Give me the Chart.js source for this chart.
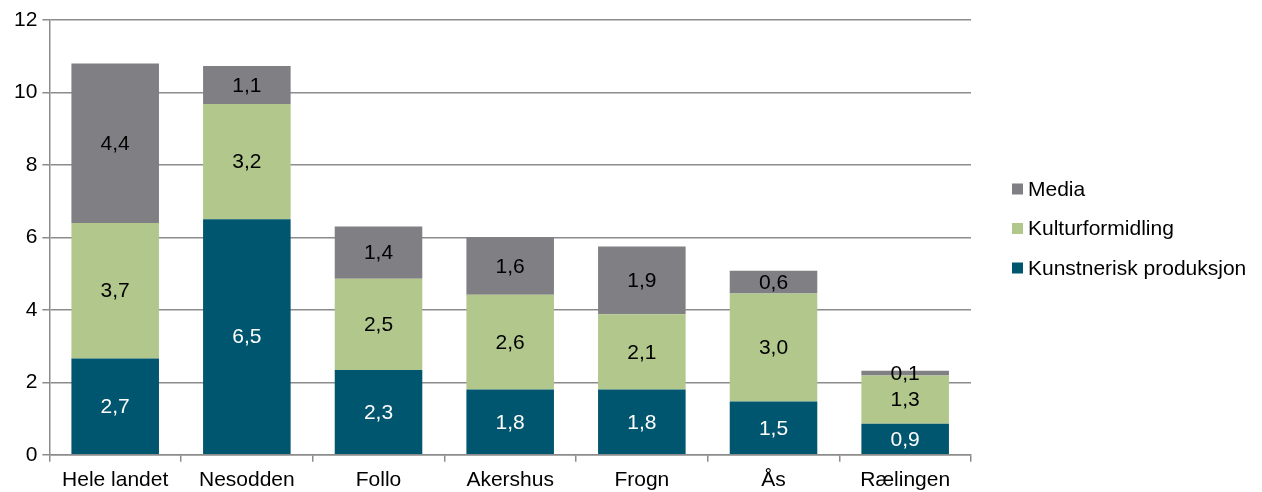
<!DOCTYPE html>
<html>
<head>
<meta charset="utf-8">
<script src="https://cdn.jsdelivr.net/npm/chart.js@4/dist/chart.umd.min.js"></script>
<style>
html,body{margin:0;padding:0;background:#fff;}
#wrap{width:1262px;height:492px;}
</style>
</head>
<body>
<div id="wrap"><canvas id="c" width="1262" height="492"></canvas></div>
<script>
const categories = ['Hele landet','Nesodden','Follo','Akershus','Frogn','Ås','Rælingen'];
const kunstnerisk = [2.66, 6.50, 2.34, 1.80, 1.80, 1.47, 0.86];
const kulturformidling = [3.74, 3.18, 2.52, 2.62, 2.08, 2.98, 1.33];
const media = [4.40, 1.05, 1.44, 1.59, 1.87, 0.63, 0.13];
const yTicks = [0, 2, 4, 6, 8, 10, 12];

const FONT = '"Liberation Sans", Arial, sans-serif';
const GRID = '#8c8c8c';

const seriesNames = ['Kunstnerisk produksjon','Kulturformidling','Media'];
const seriesColors = ['#00566e','#b2c78c','#807f84'];
const labelColors = ['#ffffff','#000000','#000000'];

const valueLabels = {
  id: 'valueLabels',
  afterDatasetsDraw(chart) {
    const ctx = chart.ctx;
    ctx.save();
    ctx.font = '21px ' + FONT;
    ctx.textAlign = 'center';
    ctx.textBaseline = 'middle';
    chart.data.datasets.forEach((ds, di) => {
      const meta = chart.getDatasetMeta(di);
      meta.data.forEach((bar, i) => {
        const v = ds.data[i];
        const txt = (Math.round(v * 10) / 10).toFixed(1).replace('.', ',');
        ctx.fillStyle = labelColors[di];
        const y = (bar.y + bar.base) / 2 + 1;
        ctx.fillText(txt, bar.x, y);
      });
    });
    ctx.restore();
  }
};

const customLegend = {
  id: 'customLegend',
  afterDraw(chart) {
    const ctx = chart.ctx;
    ctx.save();
    ctx.font = '21px ' + FONT;
    ctx.textAlign = 'left';
    ctx.textBaseline = 'middle';
    const order = [2, 1, 0];
    const x0 = 1012;
    const yStart = 189;
    const step = 39.5;
    order.forEach((si, k) => {
      const y = yStart + k * step;
      ctx.fillStyle = seriesColors[si];
      ctx.fillRect(x0, y - 5.5, 11, 11);
      ctx.fillStyle = '#000000';
      ctx.fillText(seriesNames[si], x0 + 16, y + 1);
    });
    ctx.restore();
  }
};

new Chart(document.getElementById('c'), {
  type: 'bar',
  data: {
    labels: categories,
    datasets: [
      { label: seriesNames[0], data: kunstnerisk, backgroundColor: seriesColors[0], barPercentage: 0.665, categoryPercentage: 1.0 },
      { label: seriesNames[1], data: kulturformidling, backgroundColor: seriesColors[1], barPercentage: 0.665, categoryPercentage: 1.0 },
      { label: seriesNames[2], data: media, backgroundColor: seriesColors[2], barPercentage: 0.665, categoryPercentage: 1.0 }
    ]
  },
  options: {
    responsive: false,
    animation: false,
    maintainAspectRatio: false,
    layout: { padding: { left: 9, right: 291, top: 20, bottom: -7 } },
    plugins: { legend: { display: false }, tooltip: { enabled: false } },
    scales: {
      x: {
        stacked: true,
        grid: { display: true, drawOnChartArea: false, drawTicks: true, tickLength: 7, offset: true, color: GRID, lineWidth: 1.5 },
        border: { display: true, color: GRID, width: 1.5 },
        ticks: { color: '#000', font: { family: FONT, size: 21 }, padding: 6, maxRotation: 0 }
      },
      y: {
        stacked: true,
        min: 0, max: 12,
        afterBuildTicks(axis) { axis.ticks = yTicks.map(v => ({ value: v })); },
        grid: { display: true, drawOnChartArea: true, drawTicks: true, tickLength: 7, color: GRID, lineWidth: 1.5 },
        border: { display: true, color: GRID, width: 1.5 },
        ticks: { color: '#000', font: { family: FONT, size: 21 }, padding: 5 }
      }
    }
  },
  plugins: [valueLabels, customLegend]
});
</script>
</body>
</html>
